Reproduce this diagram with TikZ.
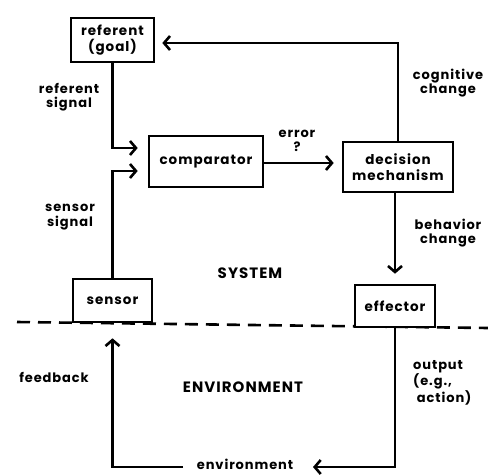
\documentclass[tikz,border=0pt]{standalone}
\usepackage{fontspec}
\setmainfont{Poppins}[LetterSpace=7]
\usetikzlibrary{arrows.meta}
\begin{document}
\begin{tikzpicture}[x=1pt,y=-1pt,
  box/.style={draw,line width=2.6pt,fill=white,inner sep=0pt,font=\fontsize{13.5}{16}\selectfont\bfseries,align=center},
  lbl/.style={font=\fontsize{13}{14.5}\selectfont\bfseries,align=center,inner sep=0pt},
  big/.style={font=\fontsize{15}{16}\selectfont\bfseries,inner sep=0pt},
  conn/.style={line width=2.6pt,-{Straight Barb[length=6pt,width=14pt,line width=2.6pt]}}]
\useasboundingbox (0,0) rectangle (488,475);
\draw[line width=2.6pt,dash pattern=on 13pt off 8pt] (17,322) -- (488,328);
\node[box,minimum width=83pt,minimum height=44pt] (ref) at (112.5,40) {referent\\(goal)};
\node[box,minimum width=114pt,minimum height=51pt] (comp) at (206,161.5) {comparator};
\node[box,minimum width=110pt,minimum height=50pt] (dec) at (398,167) {decision\\mechanism};
\node[box,minimum width=80pt,minimum height=42pt] (eff) at (395,306) {effector};
\node[box,minimum width=79pt,minimum height=43pt] (sen) at (112.5,300.5) {sensor};
\node[lbl] (env) at (245,464) {environment};
\node[big] (sys) at (250,273) {SYSTEM};
\node[big] (envr) at (243,387) {ENVIRONMENT};
\node[lbl] (rs) at (69,97) {referent\\signal};
\node[lbl] (ss) at (70,217) {sensor\\signal};
\node[lbl] (err) at (297,141) {error\\?};
\node[lbl] (cc) at (448,83) {cognitive\\change};
\node[lbl] (bc) at (448,233) {behavior\\change};
\node[lbl,anchor=north west,align=left] (out) at (413,360) {output\\(e.g.,\\\ action)};
\node[lbl] (fb) at (54,377) {feedback};
\coordinate (ra) at (comp.west |- 0,148);
\coordinate (sa) at (comp.west |- 0,171);
\coordinate (top) at (dec.north |- 0,43);
\coordinate (envR) at (313,467);
\coordinate (envL) at (183,467);
\draw[conn,shorten >=10pt] (ref.south) |- (ra);
\draw[conn,shorten >=10pt] (sen.north) |- (sa);
\draw[conn,shorten >=8pt] (comp.east |- 0,163) -- (dec.west |- 0,163);
\draw[conn,shorten >=7pt] (dec.north) |- (ref.east |- top);
\draw[conn,shorten >=10pt] (dec.south -| eff.north) -- (eff.north);
\draw[conn] (eff.south) |- (envR);
\draw[conn,shorten >=15pt] (envL) -| (sen.south);
\end{tikzpicture}
\end{document}
